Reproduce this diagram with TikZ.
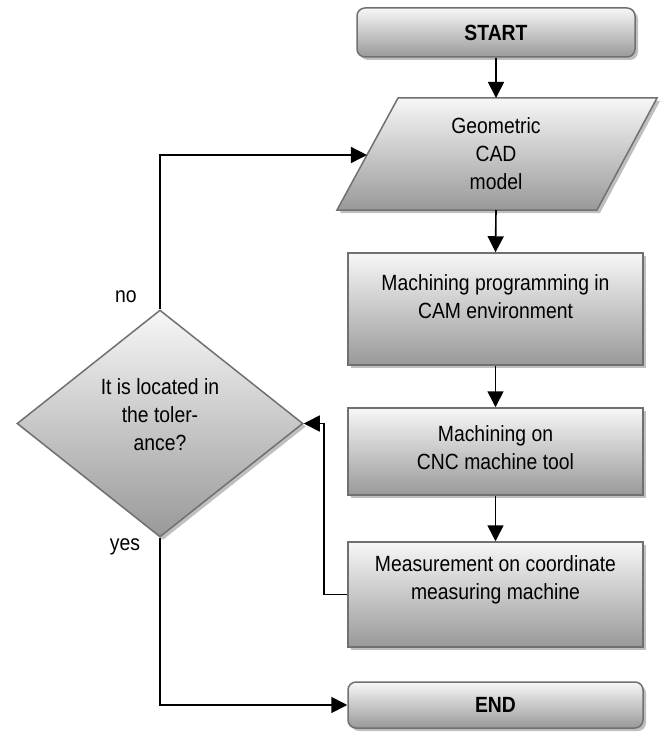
\documentclass[tikz,border=0pt]{standalone}
\usepackage{fontspec}
\setmainfont{Liberation Sans}[FakeStretch=0.88]
\usetikzlibrary{arrows.meta,shapes.geometric,shadows,calc}
\definecolor{bordergray}{HTML}{707070}
\definecolor{topgray}{HTML}{F7F7F7}
\definecolor{botgray}{HTML}{999999}
\begin{document}
\begin{tikzpicture}[x=1pt,y=-1pt,
  box/.style={draw=bordergray, line width=1.5pt, top color=topgray, bottom color=botgray,
    drop shadow={shadow xshift=3pt, shadow yshift=-3pt, fill=black!25, opacity=1}, inner sep=0pt},
  txt/.style={align=center, font=\fontsize{22}{28}\selectfont, inner sep=0pt},
  arr/.style={draw=black, line width=1.6pt, -{Triangle[width=16pt,length=16pt]}}
]
\useasboundingbox (0,0) rectangle (666,733);
% START / END
\node[box, txt, rounded corners=8pt, minimum width=278pt, minimum height=49pt] (start) at (496,32.5) {\bfseries START};
\node[box, txt, rounded corners=8pt, minimum width=295pt, minimum height=46pt] (end) at (495.5,705) {\bfseries END};
% parallelogram
\coordinate (cadTL) at (398,98);
\coordinate (cadTR) at (657,98);
\coordinate (cadBR) at (597,210);
\coordinate (cadBL) at (337,210);
\path[box] (cadTL) -- (cadTR) -- (cadBR) -- (cadBL) -- cycle;
\node[txt] (cad) at (496,154) {Geometric\\CAD\\model};
\coordinate (cadtop) at (496,98);
\coordinate (cadbot) at (496,210);
\coordinate (cadin) at ($(cadTL)!0.509!(cadBL)$);
% boxes
\node[box, minimum width=295pt, minimum height=112pt] (cam) at (495.5,309) {};
\node[txt] (camtxt) at (495.5,296.5) {Machining programming in\\CAM environment};
\node[box, minimum width=295pt, minimum height=87pt] (cnc) at (495.5,451.5) {};
\node[txt] (cnctxt) at (495.5,447.5) {Machining on\\CNC machine tool};
\node[box, minimum width=295pt, minimum height=105pt] (meas) at (495.5,594.5) {};
\node[txt] (meastxt) at (495.5,580) {Measurement on coordinate\\measuring machine};
% decision
\node[box, diamond, minimum width=286pt, minimum height=227pt] (dec) at (160,423.5) {};
\node[txt] (dectxt) at (160,415) {It is located in\\the toler-\\ance?};
% labels
\node[txt] (no) at (126,297) {no};
\node[txt] (yes) at (125,547) {yes};
% connectors
\draw[arr] (start.south) -- (cadtop);
\draw[arr] (cadbot) -- (cam.north);
\draw[arr] (cam.south) -- (cnc.north);
\draw[arr] (cnc.south) -- (meas.north);
\draw[arr] (meas.west) -- ++(-23,0) |- (dec.east);
\draw[arr] (dec.north) |- (cadin);
\draw[arr] (dec.south) |- (end.west);
\end{tikzpicture}
\end{document}
